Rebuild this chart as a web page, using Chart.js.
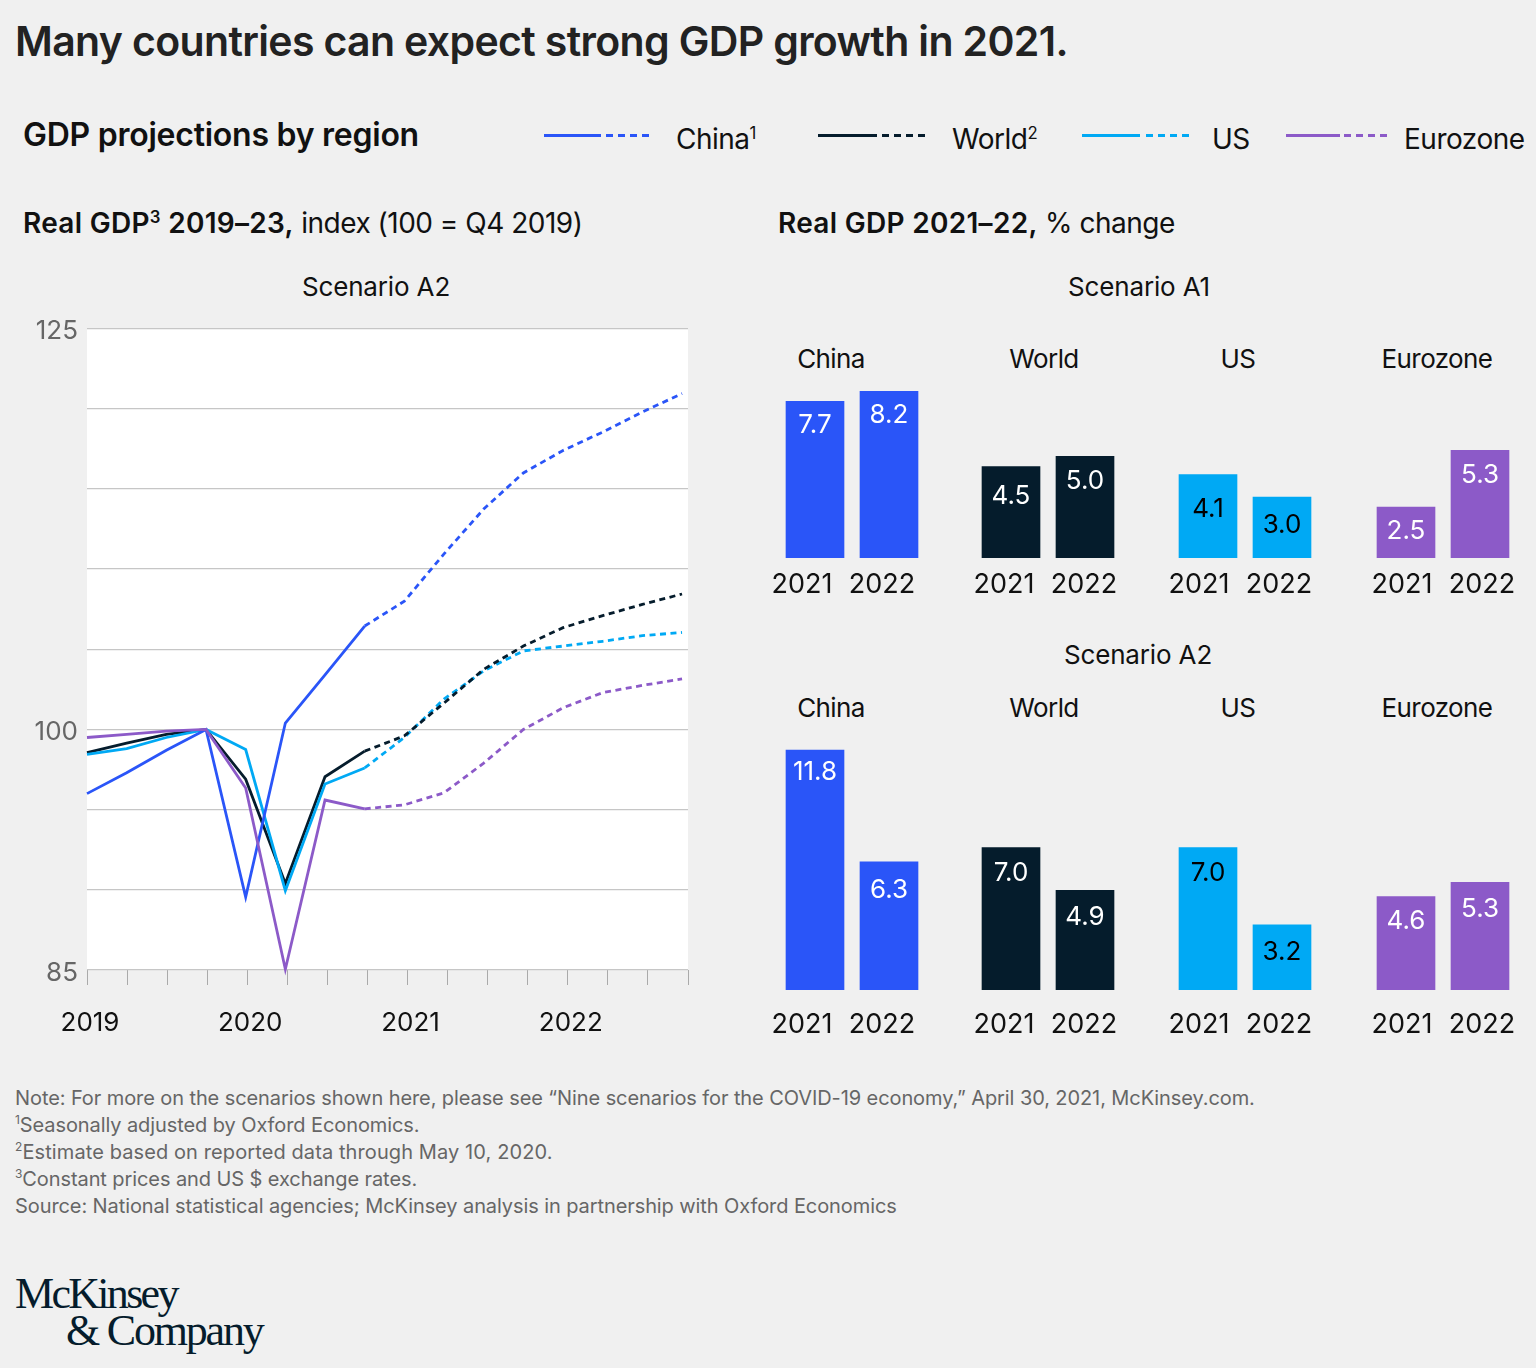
<!DOCTYPE html>
<html>
<head>
<meta charset="utf-8">
<script src="https://cdn.jsdelivr.net/npm/chart.js@4"></script>
<style>
  html, body { margin: 0; background: #f0f0f0; }
  #page { position: relative; width: 1536px; height: 1368px; overflow: hidden; font-family: Inter, sans-serif; color: #111; }
  #page div { position: absolute; white-space: nowrap; }
  canvas { position: absolute; }
  .c { transform: translateX(-50%); }
  .t { font-size: 26px; letter-spacing: -0.6px; line-height: 32px; }
  .s { font-size: 26px; letter-spacing: -0.15px; line-height: 32px; }
  .h { font-size: 28px; letter-spacing: -0.5px; line-height: 32px; }
  .b { font-weight: 600; letter-spacing: 0.3px; }
  sup { font-size: 60%; line-height: 0; }
  .note { left: 15px; font-size: 20px; letter-spacing: -0.09px; line-height: 27px; color: #666; }
  .logo { font-family: "Liberation Serif", serif; font-size: 44px; line-height: 44px; color: #051c2c; }
  .key { height: 3px; }
</style>
</head>
<body>
<div id="page">
  <div style="left:15px;top:16px;font-size:41px;font-weight:600;letter-spacing:-0.65px;line-height:50px;color:#222">Many countries can expect strong GDP growth in 2021.</div>
  <div style="left:23px;top:115px;font-size:32px;font-weight:600;letter-spacing:-0.25px;line-height:40px">GDP projections by region</div>

  <div class="h" style="left:23px;top:207px"><span class="b">Real GDP<sup>3</sup> 2019–23,</span> index (100 = Q4 2019)</div>
  <div class="h" style="left:778px;top:207px"><span class="b">Real GDP 2021–22,</span> % change</div>
  <div class="s c" style="left:376px;top:271px">Scenario A2</div>
  <div class="s c" style="left:1139px;top:271px">Scenario A1</div>
  <div class="s c" style="left:1138px;top:639px">Scenario A2</div>

  <div class="note" style="top:1085px">Note: For more on the scenarios shown here, please see “Nine scenarios for the COVID-19 economy,” April 30, 2021, McKinsey.com.</div>
  <div class="note" style="top:1112px"><sup>1</sup>Seasonally adjusted by Oxford Economics.</div>
  <div class="note" style="top:1139px;letter-spacing:0.1px"><sup>2</sup>Estimate based on reported data through May 10, 2020.</div>
  <div class="note" style="top:1166px"><sup>3</sup>Constant prices and US $ exchange rates.</div>
  <div class="note" style="top:1193px">Source: National statistical agencies; McKinsey analysis in partnership with Oxford Economics</div>

  <div class="logo" style="left:15px;top:1272px;letter-spacing:-2.7px">McKinsey</div>
  <div class="logo" style="left:66px;top:1309px;letter-spacing:-2.2px">&amp; Company</div>

  <canvas id="lineChart" width="711" height="746" style="left:0;top:304px"></canvas>
</div>

<script>
// ----------------------- DATA -----------------------
const quarterLabels = ["2019", "", "", "", "2020", "", "", "", "2021", "", "", "", "2022", "", "", ""];
const shownTicks = [125, 100, 85];

const chinaActual = [96, 97.3, 98.7, 100, 89.55, 100.4, 103.4, 106.45];
const chinaProjected = [null, null, null, null, null, null, null, 106.45, 108, 110.95, 113.75, 116, 117.4, 118.55, 119.8, 120.95];
const worldActual = [98.55, 99.15, 99.7, 100, 96.9, 90.4, 97.05, 98.65];
const worldProjected = [null, null, null, null, null, null, null, 98.65, 99.6, 101.65, 103.75, 105.2, 106.35, 107.1, 107.8, 108.45];
const usActual = [98.45, 98.8, 99.5, 100, 98.75, 89.95, 96.6, 97.6];
const usProjected = [null, null, null, null, null, null, null, 97.6, 99.5, 101.9, 103.65, 104.9, 105.2, 105.5, 105.85, 106.05];
const euroActual = [99.5, 99.7, 99.9, 100, 96.35, 85.05, 95.6, 95.05];
const euroProjected = [null, null, null, null, null, null, null, 95.05, 95.3, 96.05, 97.9, 100, 101.35, 102.3, 102.75, 103.15];

const years = ["2021", "2022"];
const regions = ["China", "World", "US", "Eurozone"];
const scenarioA1 = [[7.7, 8.2], [4.5, 5.0], [4.1, 3.0], [2.5, 5.3]];
const scenarioA2 = [[11.8, 6.3], [7.0, 4.9], [7.0, 3.2], [4.6, 5.3]];

// ----------------------- STYLE -----------------------
const colors = ["#2a55f8", "#051c2c", "#00a9f4", "#8c5ac8"];
const labelColors = ["#fff", "#fff", "#000", "#fff"];
const FONT = "Inter, sans-serif";
const page = document.getElementById("page");

function addText(html, left, top, cls) {
  const d = document.createElement("div");
  d.className = cls;
  d.style.left = left + "px";
  d.style.top = top + "px";
  d.innerHTML = html;
  page.appendChild(d);
}

// ----------------------- LEGEND -----------------------
function legendKey(color, x1, x2, x3, x4) {
  const solid = document.createElement("div");
  solid.className = "key";
  solid.style.cssText = `left:${x1}px;top:134px;width:${x2 - x1}px;background:${color}`;
  const dash = document.createElement("div");
  dash.className = "key";
  dash.style.cssText = `left:${x3}px;top:134px;width:${x4 - x3}px;background:repeating-linear-gradient(90deg,${color} 0 7px,transparent 7px 12px)`;
  page.appendChild(solid);
  page.appendChild(dash);
}
legendKey(colors[0], 544, 601, 606, 649);
legendKey(colors[1], 818, 877, 882, 925);
legendKey(colors[2], 1082, 1140, 1146, 1189);
legendKey(colors[3], 1286, 1340, 1344, 1389);
addText("China<sup>1</sup>", 676, 123, "h");
addText("World<sup>2</sup>", 952, 123, "h");
addText("US", 1212, 123, "h");
addText("Eurozone", 1404, 123, "h");

// ----------------------- LINE CHART -----------------------
const plotBackground = {
  id: "plotBackground",
  beforeDraw(chart) {
    const { ctx, chartArea: { top, left, width, height } } = chart;
    ctx.save();
    ctx.fillStyle = "#fff";
    ctx.fillRect(left, top, width, height);
    ctx.restore();
  },
};

function lineSet(values, color, dashed) {
  return {
    data: values.map((v, i) => ({ x: i, y: v })),
    xAxisID: "q",
    borderColor: color,
    borderWidth: 2.8,
    borderDash: dashed ? [6, 4.5] : [],
    pointRadius: 0,
    tension: 0,
    spanGaps: false,
    clip: false,
  };
}

new Chart(document.getElementById("lineChart"), {
  type: "line",
  data: {
    labels: quarterLabels,
    datasets: [
      lineSet(euroProjected, colors[3], true),
      lineSet(chinaProjected, colors[0], true),
      lineSet(worldProjected, colors[1], true),
      lineSet(usProjected, colors[2], true),
      lineSet(euroActual, colors[3], false),
      lineSet(chinaActual, colors[0], false),
      lineSet(usActual, colors[2], false),
      lineSet(worldActual, colors[1], false),
    ],
  },
  options: {
    responsive: false,
    animation: false,
    layout: { padding: { top: 21, right: 0, left: 0, bottom: 0 } },
    plugins: { legend: { display: false }, tooltip: { enabled: false } },
    scales: {
      x: {
        type: "category",
        offset: false,
        border: { display: false },
        afterFit(scale) { scale.height = 80; },
        grid: { drawOnChartArea: false, tickLength: 15, color: "#aaa", lineWidth: 1 },
        ticks: { autoSkip: false, maxRotation: 0, padding: 23, labelOffset: 3, color: "#111", font: { family: FONT, size: 26 } },
      },
      q: { type: "linear", display: false, min: 0, max: 15.15 },
      y: {
        min: 85,
        max: 125,
        border: { display: false },
        afterFit(scale) { scale.width = 87; },
        grid: { color: "#c6c6c6", lineWidth: 1.3, tickLength: 0 },
        ticks: {
          stepSize: 5,
          padding: 9,
          labelOffset: 3,
          color: "#666",
          font: { family: FONT, size: 26 },
          callback: (v) => (shownTicks.includes(v) ? String(v) : ""),
        },
      },
    },
  },
  plugins: [plotBackground],
});

// ----------------------- BAR CHARTS -----------------------
const BAR_PITCH = 74;
const LABEL_BAND = 160;

const valueLabels = {
  id: "valueLabels",
  afterDatasetsDraw(chart, args, options) {
    const { ctx } = chart;
    ctx.save();
    ctx.font = "26px " + FONT;
    ctx.textAlign = "center";
    ctx.textBaseline = "middle";
    ctx.fillStyle = options.color;
    chart.getDatasetMeta(0).data.forEach((bar, i) => {
      ctx.fillText(chart.data.datasets[0].data[i].y.toFixed(1), bar.x, bar.y + options.drop[i]);
    });
    ctx.restore();
  },
};

function barGroup(values, regionIndex, plotTop, labelCentre, barCentre, tickPad, drop) {
  const plotLeft = labelCentre - LABEL_BAND / 4;
  const c = document.createElement("canvas");
  c.width = LABEL_BAND + 40;
  c.height = 300;
  c.style.left = plotLeft - 20 + "px";
  c.style.top = plotTop + "px";
  page.appendChild(c);
  const barMin = -(barCentre - plotLeft) / BAR_PITCH;
  new Chart(c, {
    type: "bar",
    data: {
      labels: years,
      datasets: [{
        xAxisID: "b",
        data: values.map((v, i) => ({ x: i, y: v })),
        backgroundColor: colors[regionIndex],
        barThickness: 58,
      }],
    },
    options: {
      responsive: false,
      animation: false,
      layout: { padding: { left: 20, right: 20, top: 0, bottom: 0 } },
      plugins: {
        legend: { display: false },
        tooltip: { enabled: false },
        valueLabels: { color: labelColors[regionIndex], drop },
      },
      scales: {
        x: {
          type: "category",
          offset: true,
          border: { display: false },
          grid: { display: false, tickLength: 0 },
          afterFit(scale) { scale.height = 56; },
          ticks: { autoSkip: false, maxRotation: 0, padding: tickPad, color: "#111", font: { family: FONT, size: 27 } },
        },
        b: { type: "linear", display: false, offset: false, min: barMin, max: barMin + LABEL_BAND / BAR_PITCH },
        y: { display: false, min: 0, max: 12 },
      },
    },
    plugins: [valueLabels],
  });
}

const titleCentres = [831, 1044, 1238, 1437];
const labelCentres = [802, 1004, 1199, 1402];
const barCentres = [815, 1011, 1208, 1406];
const dropA1 = [[24, 24], [30, 25], [35, 28], [24, 25]];
const dropA2 = [[22, 28], [26, 27], [26, 27], [25, 27]];

regions.forEach((name, i) => {
  addText(name, titleCentres[i], 343, "t c");
  addText(name, titleCentres[i], 692, "t c");
  barGroup(scenarioA1[i], i, 314, labelCentres[i], barCentres[i], 11, dropA1[i]);
  barGroup(scenarioA2[i], i, 746, labelCentres[i], barCentres[i], 19, dropA2[i]);
});
</script>
</body>
</html>
